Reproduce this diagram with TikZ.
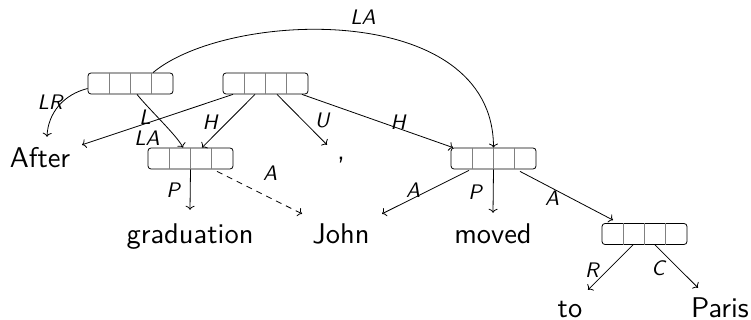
\documentclass[tikz,border=0pt]{standalone}
\usepackage{fontspec}
\newfontfamily\wordsans{lmsans10-regular.otf}[ItalicFont=lmsans10-oblique.otf]
\usetikzlibrary{arrows.meta}
\begin{document}
\begin{tikzpicture}[x=1pt,y=-1pt,
  ubox/.style={draw, rounded corners=3pt, minimum width=85pt, minimum height=21pt, inner sep=0pt, line width=0.8pt},
  word/.style={font=\fontsize{28.5}{30}\selectfont\wordsans, inner sep=0pt, text height=20pt, text depth=0pt, anchor=base},
  lab/.style={font=\fontsize{21}{24}\selectfont\wordsans\itshape, inner sep=0pt},
  conn/.style={line width=0.8pt, -{To[length=4pt,width=9pt]}},
  cellsep/.style={gray, line width=0.8pt}]
\useasboundingbox (0,0) rectangle (751,320);
% boxes
\node[ubox] (b1) at (130.5,83.5) {};
\node[ubox] (b2) at (265.5,83.5) {};
\node[ubox] (b3) at (190.5,158.5) {};
\node[ubox] (b4) at (493.5,158.5) {};
\node[ubox] (b5) at (644.5,234) {};
\foreach \b in {b1,b2,b3,b4,b5}
  \foreach \k in {-21.25,0,21.25}
    \draw[cellsep] ([xshift=\k pt]\b.north) -- ([xshift=\k pt]\b.south);
% words
\node[word] (after) at (40,168) {After};
\node[word] (comma) at (341,160) {,};
\node[word] (grad) at (190,243) {graduation};
\node[word] (john) at (341,243) {John};
\node[word] (moved) at (493,243) {moved};
\node[word] (to) at (570,317) {to};
\node[word] (paris) at (720,317) {Paris};
% connectors
\draw[conn] ([yshift=-5pt]b1.west) .. controls +(-24,6) and +(1,-24) .. ([xshift=7pt,yshift=11pt]after.north);
\draw[conn] ([xshift=-32.5pt]b2.south) -- ([xshift=42pt,yshift=3pt]after.north);
\draw[conn] ([xshift=6.5pt]b1.south) .. controls +(12,15) and +(-6,-12) .. ([xshift=-7.5pt]b3.north);
\draw[conn] ([xshift=-10.5pt]b2.south) -- ([xshift=11.5pt]b3.north);
\draw[conn] ([xshift=11.5pt]b2.south) -- ([xshift=-14pt,yshift=-5pt]comma.north);
\draw[conn] ([xshift=36.5pt]b2.south) -- ([xshift=-40.5pt]b4.north);
\draw[conn] ([xshift=22.5pt]b1.north) .. controls (228,10) and (493,0) .. (b4.north);
\draw[conn] (b3.south) -- ([yshift=13pt]grad.north);
\draw[conn, dash pattern=on 6pt off 5pt] ([xshift=26.5pt,yshift=-2pt]b3.south) -- ([xshift=-39pt,yshift=9pt]john.north);
\draw[conn] ([xshift=-24.5pt,yshift=-1pt]b4.south) -- ([xshift=41pt,yshift=9pt]john.north);
\draw[conn] (b4.south) -- ([yshift=10pt]moved.north);
\draw[conn] ([xshift=26.5pt,yshift=-2pt]b4.south) -- ([xshift=-31.5pt,yshift=3pt]b5.north);
\draw[conn] ([xshift=-11.5pt]b5.south) -- ([xshift=18pt,yshift=7pt]to.north);
\draw[conn] ([xshift=10.5pt]b5.south) -- ([xshift=-22pt,yshift=9pt]paris.north);
% labels
\node[lab] (lLR) at (50,102) {LR};
\node[lab] (lL) at (145,117) {L};
\node[lab] (lLA1) at (147,138) {LA};
\node[lab] (lH1) at (210,122) {H};
\node[lab] (lU) at (322,120) {U};
\node[lab] (lH2) at (398,122) {H};
\node[lab] (lLA2) at (363,17) {LA};
\node[lab] (lP1) at (173,190) {P};
\node[lab] (lA1) at (270,173) {A};
\node[lab] (lA2) at (413,190) {A};
\node[lab] (lP2) at (475,192) {P};
\node[lab] (lA3) at (552,198) {A};
\node[lab] (lR) at (592,270) {R};
\node[lab] (lC) at (658,268) {C};
\end{tikzpicture}
\end{document}
